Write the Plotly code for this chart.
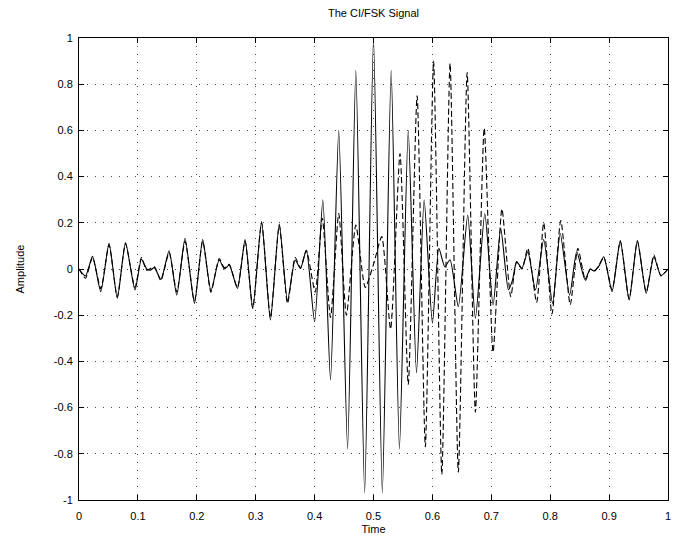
import plotly.graph_objects as go

# ---- data ----
solid_t = [0.000, 0.011, 0.023, 0.037, 0.051, 0.065, 0.079, 0.095, 0.106, 0.115,
           0.121, 0.128, 0.139, 0.153, 0.166, 0.180, 0.196, 0.210, 0.224, 0.238,
           0.247, 0.255, 0.269, 0.282, 0.295, 0.310, 0.325, 0.340, 0.354, 0.367,
           0.376, 0.386, 0.400, 0.414, 0.427, 0.441, 0.456, 0.470, 0.485, 0.500,
           0.515, 0.530, 0.544, 0.559, 0.573, 0.586, 0.600, 0.611, 0.621, 0.630,
           0.644, 0.660, 0.673, 0.689, 0.703, 0.716, 0.729, 0.736, 0.743, 0.752,
           0.762, 0.775, 0.789, 0.804, 0.817, 0.833, 0.845, 0.859, 0.868, 0.874,
           0.882, 0.891, 0.905, 0.919, 0.934, 0.948, 0.963, 0.976, 0.988, 1.000]
solid_amp = [0.0, -0.03, 0.055, -0.098, 0.111, -0.127, 0.114, -0.091, 0.042, 0.0,
             -0.005, 0.006, -0.045, 0.079, -0.113, 0.133, -0.149, 0.128, -0.094, 0.039,
             0.0, 0.017, -0.084, 0.128, -0.17, 0.205, -0.221, 0.195, -0.137, 0.039,
             0.002, 0.082, -0.228, 0.30, -0.48, 0.6, -0.78, 0.86, -0.97, 1.0,
             -0.97, 0.86, -0.78, 0.6, -0.45, 0.30, -0.235, 0.09, 0.01, 0.04,
             -0.163, 0.234, -0.214, 0.24, -0.156, 0.176, -0.09, -0.048, 0.032, 0.003,
             0.075, -0.091, 0.128, -0.149, 0.154, -0.113, 0.075, -0.045, 0.0, -0.008,
             0.01, 0.053, -0.098, 0.123, -0.134, 0.123, -0.105, 0.053, -0.028, 0.0]

dashed_t = [0.000, 0.011, 0.023, 0.037, 0.051, 0.065, 0.079, 0.095, 0.106, 0.115,
            0.128, 0.139, 0.153, 0.166, 0.180, 0.196, 0.210, 0.224, 0.238, 0.247,
            0.255, 0.269, 0.282, 0.295, 0.310, 0.325, 0.340, 0.354, 0.367, 0.376,
            0.386, 0.401, 0.413, 0.427, 0.441, 0.454, 0.470, 0.486, 0.500, 0.514,
            0.529, 0.545, 0.559, 0.574, 0.588, 0.602, 0.616, 0.630, 0.644, 0.659,
            0.673, 0.688, 0.703, 0.718, 0.733, 0.743, 0.752, 0.762, 0.777, 0.789,
            0.803, 0.818, 0.834, 0.847, 0.860, 0.868, 0.875, 0.882, 0.891, 0.905,
            0.919, 0.934, 0.948, 0.963, 0.976, 0.988, 1.000]
dashed_amp = [0.0, -0.04, 0.05, -0.085, 0.105, -0.12, 0.11, -0.08, 0.05, -0.005,
              0.01, -0.05, 0.07, -0.1, 0.12, -0.14, 0.12, -0.1, 0.045, 0.005,
              0.02, -0.08, 0.12, -0.17, 0.2, -0.21, 0.19, -0.15, 0.05, 0.005,
              0.08, -0.1, 0.22, -0.21, 0.24, -0.2, 0.19, -0.08, 0.02, 0.14,
              -0.26, 0.5, -0.5, 0.75, -0.77, 0.9, -0.89, 0.89, -0.88, 0.85,
              -0.62, 0.61, -0.36, 0.26, -0.12, 0.03, 0.0, 0.09, -0.145, 0.2,
              -0.195, 0.21, -0.155, 0.09, -0.05, 0.0, -0.01, 0.012, 0.05, -0.09,
              0.12, -0.13, 0.12, -0.1, 0.06, -0.03, 0.0]

x_tick_vals = [0, 0.1, 0.2, 0.3, 0.4, 0.5, 0.6, 0.7, 0.8, 0.9, 1]
x_tick_text = ["0", "0.1", "0.2", "0.3", "0.4", "0.5", "0.6", "0.7", "0.8", "0.9", "1"]
y_tick_vals = [-1, -0.8, -0.6, -0.4, -0.2, 0, 0.2, 0.4, 0.6, 0.8, 1]
y_tick_text = ["-1", "-0.8", "-0.6", "-0.4", "-0.2", "0", "0.2", "0.4", "0.6", "0.8", "1"]

FONT = "Liberation Sans, Arial, Helvetica, sans-serif"

fig = go.Figure()
fig.add_trace(go.Scatter(x=solid_t, y=solid_amp, mode="lines",
                         line=dict(color="black", width=1.1, shape="spline", smoothing=0.6),
                         showlegend=False))
fig.add_trace(go.Scatter(x=dashed_t, y=dashed_amp, mode="lines",
                         line=dict(color="black", width=1.1, dash="6px,3px",
                                   shape="spline", smoothing=0.6),
                         showlegend=False))

axis_common = dict(showline=True, linecolor="black", linewidth=1, mirror="ticks",
                   ticks="inside", ticklen=5, tickcolor="black",
                   showgrid=True, gridcolor="#444", griddash="1px,7px", gridwidth=1,
                   zeroline=False, automargin=False, ticklabeloverflow="allow",
                   tickfont=dict(family=FONT, size=11, color="black"))

fig.update_layout(
    width=676, height=549,
    paper_bgcolor="white", plot_bgcolor="white",
    margin=dict(l=79, r=8, t=38, b=49),
    title=dict(text="The CI/FSK Signal", x=0.5525, xanchor="center", y=0.976, yanchor="middle",
               font=dict(family=FONT, size=11, color="black")),
    font=dict(family=FONT, size=11, color="black"),
    xaxis=dict(range=[0, 1], tickvals=x_tick_vals, ticktext=x_tick_text,
               ticklabelstandoff=6,
               title=dict(text="Time", standoff=4, font=dict(family=FONT, size=11)),
               **axis_common),
    yaxis=dict(range=[-1, 1], tickvals=y_tick_vals, ticktext=y_tick_text,
               ticklabelstandoff=3,
               title=dict(text="Amplitude", standoff=26, font=dict(family=FONT, size=11)),
               **axis_common),
)

fig.write_html("out.html", config={"displayModeBar": False},
               post_script="document.body.style.margin='0px';")
